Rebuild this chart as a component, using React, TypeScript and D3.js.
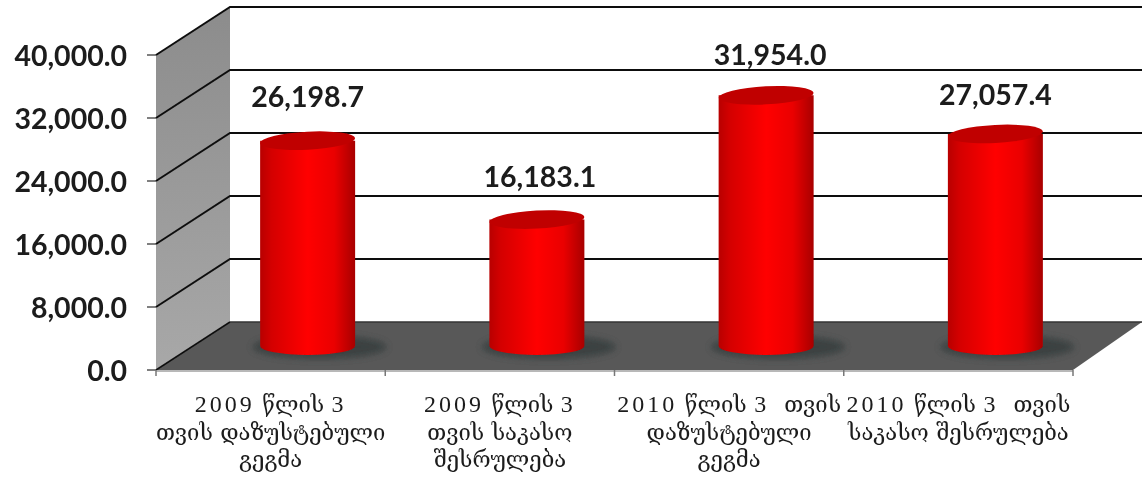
import React from "react";
import * as d3 from "d3";

const categories = ["2009 Q1 plan", "2009 Q1 exec", "2010 Q1 plan", "2010 Q1 exec"];
const categoryLines = [
  ["2009 წლის 3", "თვის დაზუსტებული", "გეგმა"],
  ["2009 წლის 3", "თვის საკასო", "შესრულება"],
  ["2010 წლის 3  თვის", "დაზუსტებული", "გეგმა"],
  ["2010 წლის 3  თვის", "საკასო შესრულება"],
];
const values = [26198.7, 16183.1, 31954.0, 27057.4];
const yTicks = [0, 8000, 16000, 24000, 32000, 40000];

const W = 1142, H = 480;
const DX = 74, DY = -48;
const RX = 47.5, RY = 9;
const labelLift = [43, 42, 39, 38];
const labelShift = [0, 3, 4, 0];
const fmt = d3.format(",.1f");

export default function App() {
  const y = d3.scaleLinear().domain([0, 40000]).range([370, 55]);
  const x = d3.scaleBand<string>().domain(categories).range([156, 1073]);
  const right = 1142;
  const floorBackY = y(0) + DY;
  const x0 = x.range()[0];
  const wall = `M${x0},${y(40000)} L${x0 + DX},${y(40000) + DY} L${x0 + DX},${floorBackY} L${x0},${y(0)} Z`;
  const floor = `M${x0},${y(0)} L${x0 + DX},${floorBackY} L${right},${floorBackY} L${x.range()[1]},${y(0)} Z`;
  const catTicks = [...categories.map((c) => x(c)!), x.range()[1]];
  const sans = "Lato, 'Open Sans', sans-serif";
  const serif = "'Liberation Serif', 'DejaVu Serif', 'DejaVu Sans', serif";
  return (
    <svg width={W} height={H} style={{ position: "absolute", left: 0, top: 0, background: "#fff" }}>
      <defs>
        <linearGradient id="cyl" x1="0" x2="1" y1="0" y2="0">
          <stop offset="0" stopColor="#b80000" />
          <stop offset="0.12" stopColor="#d40000" />
          <stop offset="0.5" stopColor="#ff0000" />
          <stop offset="0.78" stopColor="#ea0000" />
          <stop offset="1" stopColor="#a80000" />
        </linearGradient>
        <linearGradient id="wallG" x1="0" x2="0" y1="0" y2="1">
          <stop offset="0" stopColor="#8c8c8c" />
          <stop offset="1" stopColor="#a8a8a8" />
        </linearGradient>
        <filter id="sh" x="-30%" y="-60%" width="160%" height="220%">
          <feGaussianBlur stdDeviation="3.5" />
        </filter>
        <filter id="soft" x="-2%" y="-2%" width="104%" height="104%">
          <feGaussianBlur stdDeviation="0.45" />
        </filter>
      </defs>
      <g filter="url(#soft)">
        <path d={wall} fill="url(#wallG)" />
        <path d={floor} fill="#595959" />
        {yTicks.map((t) => (
          <g key={t} fill="none" stroke="#111" strokeWidth={2}>
            <line x1={147} x2={x0} y1={y(t)} y2={y(t)} stroke="#555" strokeWidth={1.5} />
            {t > 0 && (
              <polyline points={`${x0},${y(t)} ${x0 + DX},${y(t) + DY} ${right},${y(t) + DY}`} />
            )}
          </g>
        ))}
        <line x1={x0} y1={y(0)} x2={x0 + DX} y2={floorBackY} stroke="#111" strokeWidth={1.5} />
        <line x1={x0 + DX} y1={floorBackY} x2={right} y2={floorBackY} stroke="#333" strokeWidth={1.5} />
        <line x1={x0} y1={y(0) + 1} x2={x.range()[1]} y2={y(0) + 1} stroke="#a0a0a0" strokeWidth={1.5} />
        {catTicks.map((t, i) => (
          <line key={i} x1={t} x2={t} y1={y(0)} y2={y(0) + 6} stroke="#777" strokeWidth={1.5} />
        ))}
        {values.map((v, i) => {
          const cx = x(categories[i])! + x.bandwidth() / 2 + DX / 2;
          const base = y(0) + DY / 2;
          const top = base - (y(0) - y(v)) + 1;
          return (
            <g key={i}>
              <ellipse cx={cx + 12} cy={base + 1} rx={RX + 20} ry={RY + 3} fill="#2e3838" opacity={0.7} filter="url(#sh)" />
              <path
                d={`M${cx - RX},${top} L${cx - RX},${base} A${RX},${RY} 0 0 0 ${cx + RX},${base} L${cx + RX},${top} Z`}
                fill="url(#cyl)"
              />
              <ellipse cx={cx} cy={top} rx={RX} ry={RY} fill="#c00000" transform={`rotate(-3 ${cx} ${top})`} />
            </g>
          );
        })}
      </g>
      <g filter="url(#soft)">
        {yTicks.map((t) => (
          <text key={t} x={127} y={y(t) + 1.5} dy="0.35em" textAnchor="end" fontFamily={sans} fontWeight={700} fontSize={28.5} fill="#1a1a1a">
            {fmt(t)}
          </text>
        ))}
        {values.map((v, i) => {
          const cx = x(categories[i])! + x.bandwidth() / 2 + DX / 2 + labelShift[i];
          const top = y(0) + DY / 2 - (y(0) - y(v));
          return (
            <text key={i} x={cx} y={top - labelLift[i]} dy="0.35em" textAnchor="middle" fontFamily={sans} fontWeight={700} fontSize={28.5} fill="#1a1a1a">
              {fmt(v)}
            </text>
          );
        })}
        {categoryLines.map((lines, i) => (
          <text key={i} textAnchor="middle" fontFamily={serif} fontSize={22} fill="#1a1a1a" wordSpacing={2} xmlSpace="preserve">
            {lines.map((l, j) => (
              <tspan key={j} x={x(categories[i])! + x.bandwidth() / 2} y={412 + j * 27.5}>
                {l.split(/(\d+)/).filter(Boolean).map((part, k) => (
                  <tspan key={k} letterSpacing={/\d/.test(part) ? 3 : 0} fontSize={/\d/.test(part) ? 24 : 22}>{part}</tspan>
                ))}
              </tspan>
            ))}
          </text>
        ))}
      </g>
    </svg>
  );
}
